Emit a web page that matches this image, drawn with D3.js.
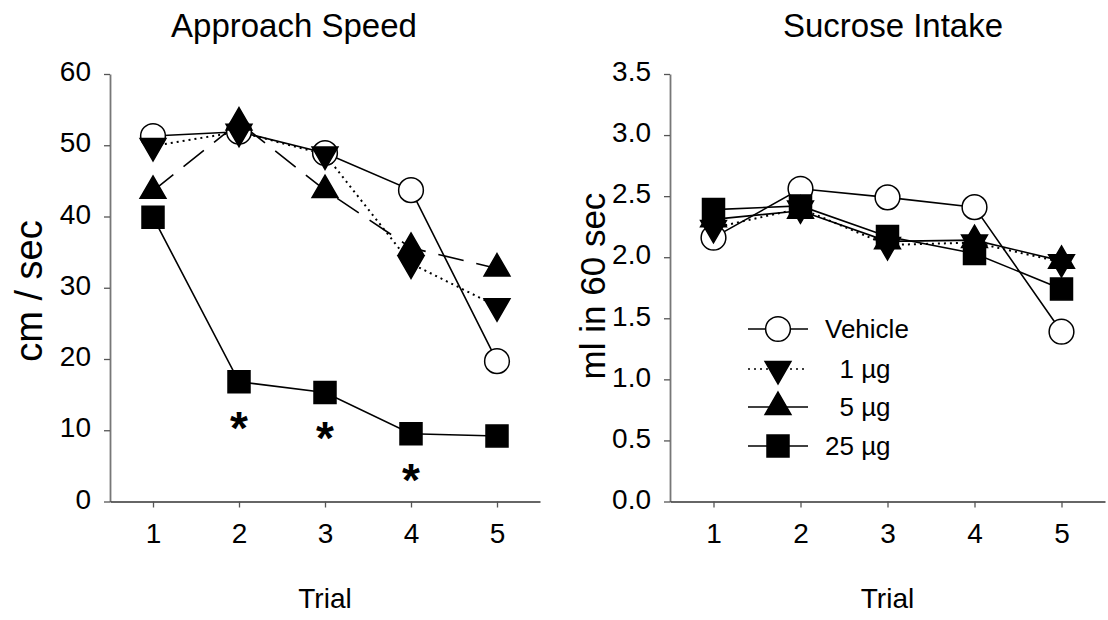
<!DOCTYPE html>
<html>
<head>
<meta charset="utf-8">
<script src="https://cdn.jsdelivr.net/npm/d3@7"></script>
<style>
  html, body { margin: 0; padding: 0; background: #fff; }
  svg { display: block; }
  text { font-family: "Liberation Sans", Arial, sans-serif; fill: #000; }
</style>
</head>
<body>
<div id="chart"></div>
<script>
// data
var trials = [1, 2, 3, 4, 5];

var speedVehicle = [51.3, 51.9, 48.9, 43.7, 19.7];
var speed1ug = [49.9, 51.9, 48.7, 33.4, 27.4];
var speed5ug = [43.6, 53.2, 43.7, 35.6, 32.7];
var speed25ug = [39.9, 16.8, 15.3, 9.5, 9.2];
var speedSignificant = [2, 3, 4]; // trials marked with *

var intakeVehicle = [2.16, 2.56, 2.49, 2.41, 1.39];
var intake1ug = [2.24, 2.40, 2.10, 2.12, 1.96];
var intake5ug = [2.31, 2.38, 2.13, 2.14, 1.97];
var intake25ug = [2.39, 2.42, 2.17, 2.03, 1.74];

var groupNames = ['Vehicle', '  1 \u00b5g', '  5 \u00b5g', '25 \u00b5g'];
var speedTicks = [0, 10, 20, 30, 40, 50, 60];
var intakeTicks = [0, 0.5, 1.0, 1.5, 2.0, 2.5, 3.0, 3.5];

var width = 1108, height = 620;

var svg = d3.select('#chart').append('svg')
  .attr('width', width).attr('height', height);

// symbol for each group
var symbols = [
  { type: d3.symbolCircle, size: 480, fill: '#fff', rotate: 0 },
  { type: d3.symbolTriangle, size: 290, fill: '#000', rotate: 180 },
  { type: d3.symbolTriangle, size: 290, fill: '#000', rotate: 0 },
  { type: d3.symbolSquare, size: 484, fill: '#000', rotate: 0 }
];

function drawMarker(g, i, x, y) {
  var s = symbols[i];
  g.append('path')
    .attr('d', d3.symbol().type(s.type).size(s.size)())
    .attr('transform', 'translate(' + x + ',' + y + ') rotate(' + s.rotate + ')')
    .attr('fill', s.fill)
    .attr('stroke', '#000')
    .attr('stroke-width', 1.5);
}

function drawPanel(p) {
  var x = d3.scaleLinear().domain([0.5, 5.5]).range(p.xRange);
  var y = d3.scaleLinear().domain(p.yDomain).range([501.5, 74]);
  var g = svg.append('g');

  // y axis
  var yAxis = d3.axisLeft(y).tickValues(p.yTicks).tickFormat(p.yFormat)
    .tickSize(6).tickSizeOuter(0).tickPadding(13);
  var ya = g.append('g').attr('transform', 'translate(' + p.xRange[0] + ',0)').call(yAxis);
  ya.select('.domain').attr('stroke', '#777').attr('stroke-width', 1.8);
  ya.selectAll('.tick line').attr('stroke', '#555').attr('stroke-width', 1.3);
  ya.selectAll('.tick text').style('font-size', '28px').attr('dy', '0.24em');

  // x axis
  var xAxis = d3.axisBottom(x).tickValues(trials).tickFormat(d3.format('d'))
    .tickSize(6).tickSizeOuter(0).tickPadding(16);
  var xa = g.append('g').attr('transform', 'translate(0,' + y(p.yDomain[0]) + ')').call(xAxis);
  xa.select('.domain').attr('stroke', '#333').attr('stroke-width', 1.6);
  xa.selectAll('.tick line').attr('stroke', '#555').attr('stroke-width', 1.3);
  xa.selectAll('.tick text').style('font-size', '28px');

  // titles
  g.append('text').attr('x', p.titleX).attr('y', 37)
    .attr('text-anchor', 'middle').style('font-size', '33px').text(p.title);
  g.append('text').attr('x', x(3)).attr('y', 608)
    .attr('text-anchor', 'middle').style('font-size', '28px').text('Trial');
  g.append('text')
    .attr('transform', 'translate(' + p.yLabelX + ',' + p.yLabelY + ') rotate(-90)')
    .attr('text-anchor', 'middle').style('font-size', p.yLabelSize).text(p.yLabel);

  // lines first, then markers on top
  var line = d3.line().x(function(d, i) { return x(trials[i]); }).y(function(d) { return y(d); });
  p.series.forEach(function(vals, i) {
    g.append('path').datum(vals)
      .attr('d', line)
      .attr('fill', 'none')
      .attr('stroke', '#000')
      .attr('stroke-width', p.dashes[i] === '2,4' ? 2 : 1.6)
      .attr('stroke-dasharray', p.dashes[i]);
  });
  p.series.forEach(function(vals, i) {
    vals.forEach(function(v, j) {
      drawMarker(g, i, x(trials[j]), y(v));
    });
  });

  return { g: g, x: x, y: y };
}

var left = drawPanel({
  xRange: [110, 540],
  yDomain: [0, 60],
  yTicks: speedTicks,
  yFormat: d3.format('d'),
  title: 'Approach Speed',
  titleX: 294,
  yLabel: 'cm / sec',
  yLabelX: 42,
  yLabelY: 291,
  yLabelSize: '38px',
  series: [speedVehicle, speed1ug, speed5ug, speed25ug],
  dashes: [null, '2,4', '26,13', null]
});

// significance asterisks under the 25 ug points
speedSignificant.forEach(function(t) {
  left.g.append('text')
    .attr('x', left.x(t))
    .attr('y', left.y(speed25ug[trials.indexOf(t)]) + 62)
    .attr('text-anchor', 'middle')
    .style('font-size', '46px')
    .style('font-weight', 'bold')
    .text('*');
});

var right = drawPanel({
  xRange: [670, 1105],
  yDomain: [0, 3.5],
  yTicks: intakeTicks,
  yFormat: d3.format('.1f'),
  title: 'Sucrose Intake',
  titleX: 893,
  yLabel: 'ml in 60 sec',
  yLabelX: 605,
  yLabelY: 286,
  yLabelSize: '35px',
  series: [intakeVehicle, intake1ug, intake5ug, intake25ug],
  dashes: [null, '2,4', null, null]
});

// legend
var legendRows = [329, 369, 407, 446];
var legendDash = [null, '2,4', null, null];
var legend = right.g.append('g');
groupNames.forEach(function(name, i) {
  var ly = legendRows[i];
  legend.append('line')
    .attr('x1', 748).attr('x2', 808).attr('y1', ly).attr('y2', ly)
    .attr('stroke', '#000').attr('stroke-width', i === 1 ? 1.6 : 1.5)
    .attr('stroke-dasharray', legendDash[i]);
  drawMarker(legend, i, 778, ly);
  legend.append('text')
    .attr('x', 825).attr('y', ly + 9)
    .style('font-size', '26px')
    .style('white-space', 'pre')
    .attr('xml:space', 'preserve')
    .text(name);
});
</script>
</body>
</html>
